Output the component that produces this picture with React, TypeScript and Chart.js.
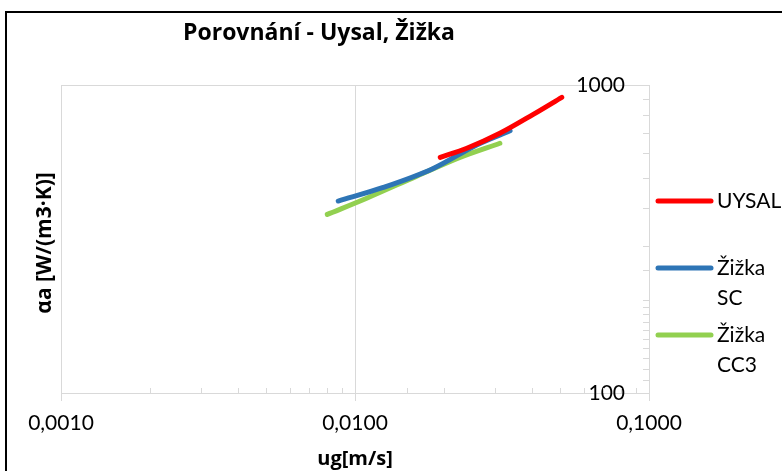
import React, { useEffect, useRef } from "react";
import { Chart, registerables } from "chart.js";

Chart.register(...registerables);

const chartTitle = "Porovnání - Uysal, Žižka";
const xTitle = "ug[m/s]";
const yTitle = "αa [W/(m3·K)]";

const seriesLabels = ["UYSAL", "Žižka SC", "Žižka CC3"];
const seriesColors = ["#FF0000", "#2E75B6", "#92D050"];

const uysalX = [0.0195, 0.024, 0.0311, 0.0404, 0.0505];
const uysalY = [582, 623, 697, 803, 912];

const zizkaScX = [0.00877, 0.01248, 0.01846, 0.02594, 0.03368];
const zizkaScY = [420, 465, 536, 639, 710];

const zizkaCc3X = [0.00805, 0.01096, 0.01622, 0.02275, 0.0311];
const zizkaCc3Y = [380, 429, 506, 582, 647];

const xMin = 0.001;
const xMax = 0.1;
const yMin = 100;
const yMax = 1000;

const FONT = "Lato, 'Open Sans', sans-serif";
const BOLD_FONT = "'Open Sans', Lato, sans-serif";
const GRID = "#d9d9d9";

const isDecade = (v: number) => Math.abs(Math.log10(v) - Math.round(Math.log10(v))) < 1e-9;

const toPoints = (xs: number[], ys: number[]) => xs.map((x, i) => ({ x, y: ys[i] }));

const decorPlugin = {
  id: "decor",
  beforeDraw(chart: any) {
    const { ctx, width, height } = chart;
    ctx.save();
    ctx.fillStyle = "#ffffff";
    ctx.fillRect(0, 0, width, height);
    ctx.restore();
  },
  afterDraw(chart: any) {
    const { ctx, chartArea } = chart;
    const xs = chart.scales.x;
    const ys = chart.scales.y;
    ctx.save();
    // minor inward ticks
    ctx.strokeStyle = GRID;
    ctx.lineWidth = 1;
    ctx.beginPath();
    xs.ticks.forEach((t: any) => {
      if (!isDecade(t.value)) {
        const p = Math.round(xs.getPixelForValue(t.value)) + 0.5;
        ctx.moveTo(p, chartArea.bottom - 5);
        ctx.lineTo(p, chartArea.bottom);
      }
    });
    ys.ticks.forEach((t: any) => {
      if (!isDecade(t.value)) {
        const p = Math.round(ys.getPixelForValue(t.value)) + 0.5;
        ctx.moveTo(chartArea.right - 6, p);
        ctx.lineTo(chartArea.right, p);
      }
    });
    ctx.stroke();

    // outer border (left/top visible)
    ctx.strokeStyle = "#000000";
    ctx.lineWidth = 2;
    ctx.beginPath();
    ctx.moveTo(6, chart.height + 5);
    ctx.lineTo(6, 12);
    ctx.lineTo(chart.width + 5, 12);
    ctx.stroke();

    // title
    ctx.fillStyle = "#000000";
    ctx.textAlign = "center";
    ctx.textBaseline = "middle";
    ctx.font = `bold 23px ${BOLD_FONT}`;
    ctx.fillText(chartTitle, 319, 33);

    // axis titles
    ctx.font = `bold 20px ${BOLD_FONT}`;
    ctx.fillText(xTitle, (chartArea.left + chartArea.right) / 2, 459);
    ctx.save();
    ctx.translate(45, (chartArea.top + chartArea.bottom) / 2 + 4);
    ctx.rotate(-Math.PI / 2);
    ctx.font = `bold 21px ${BOLD_FONT}`;
    ctx.fillText(yTitle, 0, 0);
    ctx.restore();

    // legend
    const rowOffsets = [116, 183, 250];
    ctx.font = `21px ${FONT}`;
    ctx.textAlign = "left";
    chart.data.datasets.forEach((ds: any, i: number) => {
      const y = chartArea.top + rowOffsets[i];
      ctx.strokeStyle = ds.borderColor;
      ctx.lineWidth = 5;
      ctx.lineCap = "round";
      ctx.beginPath();
      ctx.moveTo(chartArea.right + 9, y);
      ctx.lineTo(chartArea.right + 62, y);
      ctx.stroke();
      ctx.fillStyle = "#000000";
      const words = String(ds.label).split(" ");
      words.forEach((w: string, j: number) => {
        ctx.fillText(w, chartArea.right + 68, y + j * 30);
      });
    });
    ctx.restore();
  },
};

export default function App() {
  const ref = useRef<HTMLCanvasElement | null>(null);

  useEffect(() => {
    if (!ref.current) return;
    const seriesX = [uysalX, zizkaScX, zizkaCc3X];
    const seriesY = [uysalY, zizkaScY, zizkaCc3Y];
    const chart = new Chart(ref.current, {
      type: "scatter",
      data: {
        datasets: seriesLabels.map((label, i) => ({
          label,
          data: toPoints(seriesX[i], seriesY[i]),
          showLine: true,
          borderColor: seriesColors[i],
          backgroundColor: seriesColors[i],
          borderWidth: 5,
          borderCapStyle: "round",
          pointRadius: 0,
          pointHoverRadius: 0,
          cubicInterpolationMode: "monotone",
        })),
      },
      options: {
        responsive: false,
        animation: false,
        layout: { padding: { left: 61, top: 85, right: 123, bottom: 18 } },
        plugins: {
          legend: { display: false },
          title: { display: false },
          tooltip: { enabled: false },
        },
        scales: {
          x: {
            type: "logarithmic",
            position: "bottom",
            min: xMin,
            max: xMax,
            afterFit: (s: any) => {
              s.height = 60;
            },
            border: { display: true, color: GRID, width: 1 },
            grid: {
              color: (c: any) => (c.tick && isDecade(c.tick.value) ? GRID : "rgba(0,0,0,0)"),
              tickColor: (c: any) => (c.tick && isDecade(c.tick.value) ? GRID : "rgba(0,0,0,0)"),
              tickLength: 8,
              lineWidth: 1,
            },
            ticks: {
              autoSkip: false,
              maxRotation: 0,
              padding: 10,
              color: "#000000",
              font: { family: FONT, size: 21 },
              callback: (v: any) => (isDecade(Number(v)) ? Number(v).toFixed(4).replace(".", ",") : ""),
            },
          },
          y: {
            type: "logarithmic",
            position: "right",
            min: yMin,
            max: yMax,
            afterFit: (s: any) => {
              s.width = 10;
            },
            border: { display: true, color: GRID, width: 1 },
            grid: {
              color: (c: any) => (c.tick && isDecade(c.tick.value) ? GRID : "rgba(0,0,0,0)"),
              drawTicks: false,
              lineWidth: 1,
            },
            ticks: {
              mirror: true,
              autoSkip: false,
              padding: -24,
              color: "#000000",
              font: { family: FONT, size: 21 },
              callback: (v: any) => (isDecade(Number(v)) ? String(Math.round(Number(v))) : ""),
            },
          },
        },
      },
      plugins: [decorPlugin],
    } as any);
    return () => chart.destroy();
  }, []);

  return (
    <canvas
      ref={ref}
      width={782}
      height={471}
      style={{ position: "absolute", left: 0, top: 0, display: "block" }}
    />
  );
}
